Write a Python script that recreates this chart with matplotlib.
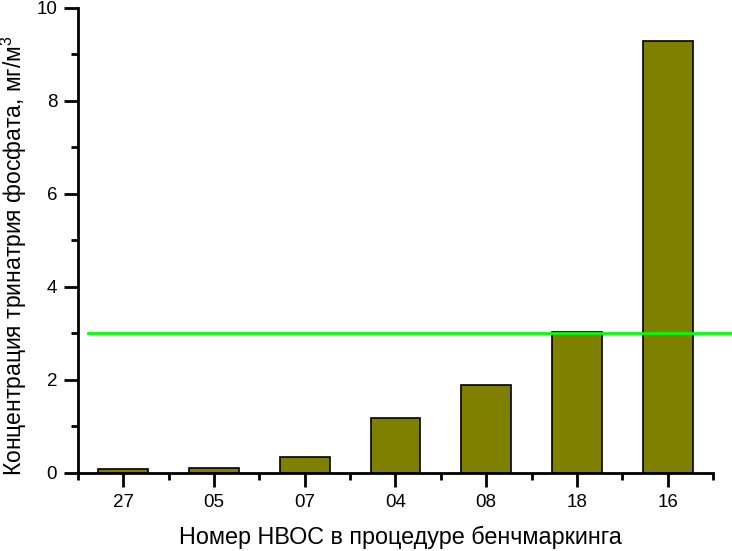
import matplotlib
matplotlib.use('Agg')
import matplotlib.pyplot as plt
from matplotlib.ticker import MultipleLocator

plt.rcParams['font.family'] = ['Liberation Sans', 'DejaVu Sans']
plt.rcParams['mathtext.fontset'] = 'custom'
plt.rcParams['mathtext.rm'] = 'Liberation Sans'
plt.rcParams['mathtext.it'] = 'Liberation Sans'

# data
categories = ['27', '05', '07', '04', '08', '18', '16']
values = [0.08, 0.10, 0.34, 1.18, 1.89, 3.04, 9.28]
limit = 3.0

olive = '#808000'
lime = '#00FF00'

fig = plt.figure(figsize=(7.32, 5.51), dpi=100)
ax = fig.add_axes([0.1066, 0.1416, 0.8674, 0.8439])

x = range(len(categories))
ax.bar(x, values, width=0.55, color=olive, edgecolor='black', linewidth=1.2, zorder=2)
# limit line runs past the axes to the figure edge
ax.plot([-0.39, 6.72], [limit, limit], color=lime, linewidth=2, clip_on=False, zorder=3)

ax.set_xlim(-0.5, 6.5)
ax.set_ylim(0, 10)
ax.set_xticks(list(x))
ax.set_xticklabels(categories)
ax.xaxis.set_minor_locator(MultipleLocator(1, offset=0.5))
ax.yaxis.set_major_locator(MultipleLocator(2))
ax.yaxis.set_minor_locator(MultipleLocator(1))

for side in ('top', 'right'):
    ax.spines[side].set_visible(False)
for side in ('left', 'bottom'):
    ax.spines[side].set_linewidth(2)

ax.tick_params(which='major', direction='out', length=10, width=2, labelsize=13.5, pad=5)
ax.tick_params(which='minor', direction='out', length=5, width=2)

ax.set_xlabel('Номер НВОС в процедуре бенчмаркинга', fontsize=16.8, va='baseline')
ax.xaxis.set_label_coords(0.507, -0.1527)
ax.set_ylabel('Концентрация тринатрия фосфата, мг/м$^3$', fontsize=16.5, va='baseline')
ax.yaxis.set_label_coords(-0.0883, 0.468)

fig.savefig('out.png', dpi=100)
